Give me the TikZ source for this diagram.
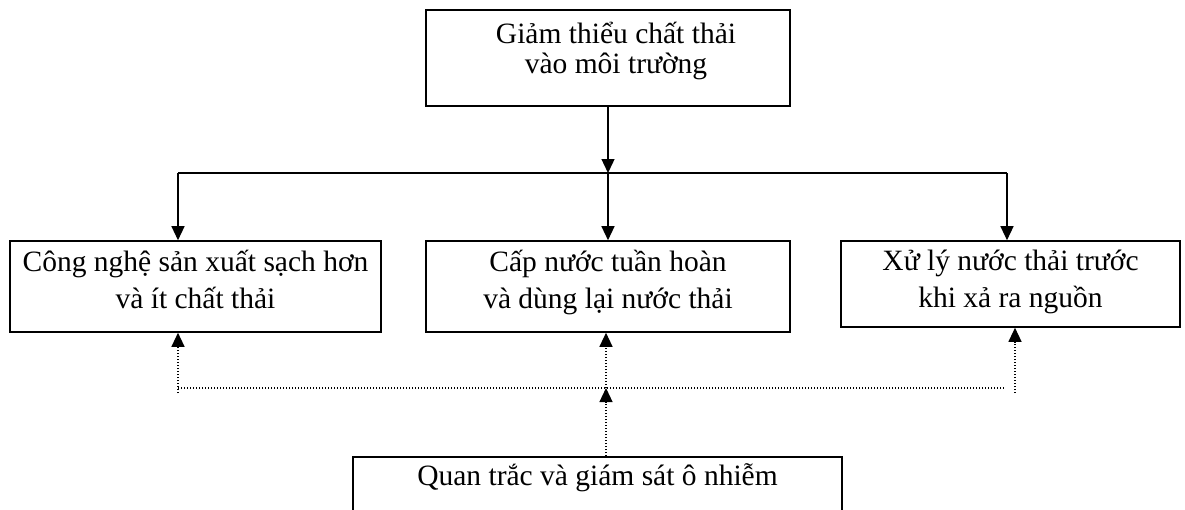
\documentclass[tikz,border=0pt]{standalone}
\usepackage{fontspec}
\setmainfont{Liberation Serif}
\usetikzlibrary{arrows.meta}
\lineskiplimit=-20pt

\begin{document}
\begin{tikzpicture}[
    x=1pt, y=-1pt,
    box/.style={
        rectangle,
        draw=black,
        line width=1.6pt,
        inner sep=0pt,
        text height=0pt,
        text depth=0pt,
        align=center,
        font=\fontsize{29.5}{36.5}\selectfont
    },
    arr/.style={-{Triangle[width=13pt,length=14pt]}, line width=1.3pt},
    dots/.style={line width=1.2pt, dash pattern=on 1.2pt off 1.8pt}
]
\useasboundingbox (0,0) rectangle (1185,509);

\node[box, minimum width=364pt, minimum height=96pt, text height=30pt, font=\fontsize{29.5}{30}\selectfont] (goal) at (608,58) {\hspace*{16pt}Giảm thiểu chất thải\\\hspace*{16pt}vào môi trường};

\node[box, minimum width=371pt, minimum height=91pt, text height=43pt] (clean) at (195.5,286.5) {Công nghệ sản xuất sạch hơn\\và ít chất thải};

\node[box, minimum width=364pt, minimum height=91pt, text height=43pt] (reuse) at (608,286.5) {Cấp nước tuần hoàn\\và dùng lại nước thải};

\node[box, minimum width=339pt, minimum height=86pt, text height=46pt] (treat) at (1010.5,284) {Xử lý nước thải trước\\khi xả ra nguồn};

\node[box, minimum width=489pt, minimum height=100pt, text depth=44pt] (watch) at (597.5,507) {Quan trắc và giám sát ô nhiễm};

\coordinate (split) at (608,173);
\coordinate (splitL) at (178,173);
\coordinate (splitR) at (1007,173);
\coordinate (joinM) at (606,388);
\coordinate (joinL) at (178,388);
\coordinate (joinR) at (1005,388);
\coordinate (footL) at (178,393);
\coordinate (footR) at (1015,393);

\draw[arr] (goal.south) -- (split);
\draw[line width=1.3pt] (splitL) -- (splitR);
\draw[arr] (splitL) -- (splitL |- clean.north);
\draw[arr] (split) -- (reuse.north);
\draw[arr] (splitR) -- (splitR |- treat.north);

\draw[dots] (joinL) -- (joinR);
\draw[dots, arr, line width=1.2pt] (watch.north -| joinM) -- (joinM);
\draw[dots, arr, line width=1.2pt] (joinM) -- (joinM |- reuse.south);
\draw[dots, arr, line width=1.2pt] (footL) -- (footL |- clean.south);
\draw[dots, arr, line width=1.2pt] (footR) -- (footR |- treat.south);

\end{tikzpicture}
\end{document}
